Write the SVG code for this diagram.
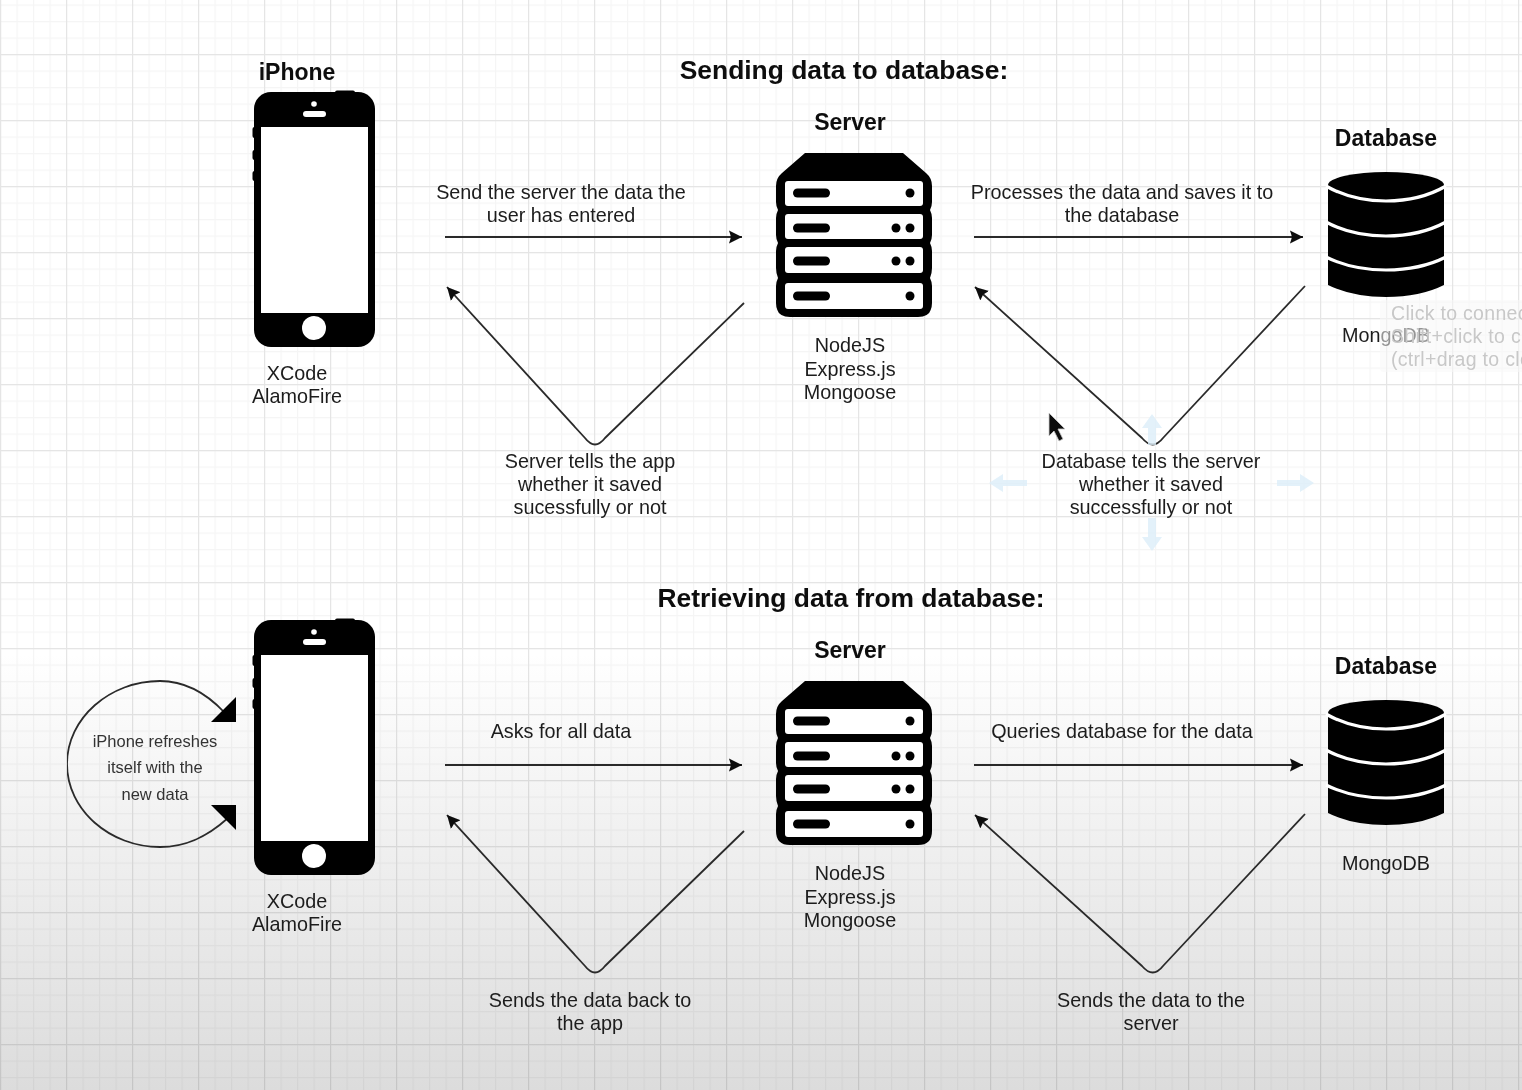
<svg xmlns="http://www.w3.org/2000/svg" width="1522" height="1090" viewBox="0 0 1522 1090">
<style>
text{font-family:"Liberation Sans",Arial,sans-serif;fill:#1c1c1c;text-anchor:middle;font-size:19.8px}
.b{font-weight:bold;fill:#0c0c0c;font-size:23px}
.t{font-weight:bold;fill:#0c0c0c;font-size:26.4px}
.s{font-size:16.5px;fill:#333}
.tip{font-size:19.5px;fill:#c8c8c8;text-anchor:start;letter-spacing:0.3px}
.c{fill:none;stroke:#2a2a2a;stroke-width:1.8;stroke-linejoin:round}
.w{fill:#fff}
.k{fill:#000}
.mv{fill:#dceef9}
</style>
<defs>
<linearGradient id="bg" x1="0" y1="0" x2="0" y2="1">
<stop offset="0" stop-color="#fff"/><stop offset="0.6" stop-color="#fff"/><stop offset="1" stop-color="#dcdcdc"/>
</linearGradient>
<pattern id="minor" width="16.5" height="16.5" patternUnits="userSpaceOnUse" y="4.5">
<path d="M0.500 0V16.5M0 0.500H16.5" fill="none" stroke="#000" stroke-opacity="0.04" stroke-width="1.3"/>
</pattern>
<pattern id="major" width="66" height="66" patternUnits="userSpaceOnUse" y="54">
<path d="M0.500 0V66M0 0.500H66" fill="none" stroke="#000" stroke-opacity="0.065" stroke-width="1.4"/>
</pattern>
<marker id="arrow" markerWidth="14" markerHeight="14" refX="13" refY="7" orient="auto" markerUnits="userSpaceOnUse">
<path d="M0 0.500L13 7L0 13.500L2 7Z" fill="#0a0a0a"/>
</marker>
<filter id="soft" x="0" y="0" width="100%" height="100%"><feGaussianBlur stdDeviation="0.7"/></filter>
<g id="phone">
<rect class="k" x="254" y="92" width="121" height="255" rx="17"/>
<rect class="k" x="335" y="90.500" width="20" height="6" rx="2"/>
<rect class="k" x="252.500" y="127" width="4" height="11" rx="2"/>
<rect class="k" x="252.500" y="150" width="4" height="10" rx="2"/>
<rect class="k" x="252.500" y="171" width="4" height="10" rx="2"/>
<rect class="w" x="261" y="127" width="107" height="186"/>
<rect class="w" x="303" y="111" width="23" height="6" rx="3"/>
<circle class="w" cx="314" cy="104" r="2.800"/>
<circle class="w" cx="314" cy="328" r="12"/>
</g>
<g id="server">
<path class="k" d="M805 153H903L926 173Q932 178 932 186V202Q932 206 930 210Q932 214 932 218V235Q932 239 930 243Q932 247 932 251V268Q932 273 930 278Q932 282 932 286V303Q932 317 918 317H790Q776 317 776 303V286Q776 282 778 278Q776 273 776 268V251Q776 247 778 243Q776 239 776 235V218Q776 214 778 210Q776 206 776 202V186Q776 178 782 173Z"/>
<rect class="w" x="785" y="181" width="138" height="25" rx="3"/>
<rect class="w" x="785" y="214" width="138" height="25" rx="3"/>
<rect class="w" x="785" y="247" width="138" height="26" rx="3"/>
<rect class="w" x="785" y="283" width="138" height="26" rx="3"/>
<rect class="k" x="793" y="188.500" width="37" height="9" rx="4.500"/>
<rect class="k" x="793" y="223.500" width="37" height="9" rx="4.500"/>
<rect class="k" x="793" y="256.500" width="37" height="9" rx="4.500"/>
<rect class="k" x="793" y="291.500" width="37" height="9" rx="4.500"/>
<circle class="k" cx="910" cy="193" r="4.500"/>
<circle class="k" cx="896" cy="228" r="4.500"/><circle class="k" cx="910" cy="228" r="4.500"/>
<circle class="k" cx="896" cy="261" r="4.500"/><circle class="k" cx="910" cy="261" r="4.500"/>
<circle class="k" cx="910" cy="296" r="4.500"/>
</g>
<g id="db">
<path class="k" d="M1328 185A58 13 0 0 1 1444 185V285Q1420 297 1386 297Q1352 297 1328 285Z"/>
<path d="M1326 186Q1352 201 1386 201Q1420 201 1446 186M1326 222Q1352 236 1386 236Q1420 236 1446 222M1326 257Q1352 270 1386 270Q1420 270 1446 257" fill="none" stroke="#fff" stroke-width="3.200"/>
</g>
</defs>
<rect width="1522" height="1090" fill="url(#bg)"/>
<rect width="1522" height="1090" fill="url(#minor)"/>
<rect width="1522" height="1090" fill="url(#major)"/>
<g filter="url(#soft)">
<g id="connectors">
<path class="c" d="M445 237H742" marker-end="url(#arrow)"/>
<path class="c" d="M744 303L605 438Q595 451 585 438L447 287" marker-end="url(#arrow)"/>
<path class="c" d="M974 237H1303" marker-end="url(#arrow)"/>
<path class="c" d="M1305 286L1163 438Q1153 451 1142 438L975 287" marker-end="url(#arrow)"/>
<path class="c" d="M445 765H742" marker-end="url(#arrow)"/>
<path class="c" d="M744 831L605 966Q595 979 585 966L447 815" marker-end="url(#arrow)"/>
<path class="c" d="M974 765H1303" marker-end="url(#arrow)"/>
<path class="c" d="M1305 814L1163 966Q1153 979 1142 966L975 815" marker-end="url(#arrow)"/>
<path class="c" d="M224 712C205 692 185 681 160 681C110 681 67 718 67 764C67 810 110 847 160 847C187 847 208 836 228 818"/>
<path class="k" d="M236 697V722H211Z"/>
<path class="k" d="M211 805H236V830Z"/>
</g>
<g id="titles">
<text class="t" x="844" y="79">Sending data to database:</text>
<text class="t" x="851" y="607">Retrieving data from database:</text>
</g>
<g id="iphone-top"><use href="#phone"/>
<text class="b" x="297" y="80">iPhone</text>
<text x="297" y="380">XCode</text><text x="297" y="403">AlamoFire</text></g>
<g id="server-top"><use href="#server"/>
<text class="b" x="850" y="130">Server</text>
<text x="850" y="352">NodeJS</text><text x="850" y="376">Express.js</text><text x="850" y="399">Mongoose</text></g>
<g id="database-top"><use href="#db"/>
<text class="b" x="1386" y="146">Database</text>
<text x="1386" y="342">MongoDB</text></g>
<g id="iphone-bottom"><use href="#phone" y="528"/>
<text x="297" y="908">XCode</text><text x="297" y="931">AlamoFire</text></g>
<g id="server-bottom"><use href="#server" y="528"/>
<text class="b" x="850" y="658">Server</text>
<text x="850" y="880">NodeJS</text><text x="850" y="904">Express.js</text><text x="850" y="927">Mongoose</text></g>
<g id="database-bottom"><use href="#db" y="528"/>
<text class="b" x="1386" y="674">Database</text>
<text x="1386" y="870">MongoDB</text></g>
<g id="labels">
<text x="561" y="199">Send the server the data the</text><text x="561" y="222">user has entered</text>
<text x="1122" y="199">Processes the data and saves it to</text><text x="1122" y="222">the database</text>
<text x="590" y="468">Server tells the app</text><text x="590" y="491">whether it saved</text><text x="590" y="514">sucessfully or not</text>
<text x="1151" y="468">Database tells the server</text><text x="1151" y="491">whether it saved</text><text x="1151" y="514">successfully or not</text>
<text x="561" y="738">Asks for all data</text>
<text x="1122" y="738">Queries database for the data</text>
<text x="590" y="1007">Sends the data back to</text><text x="590" y="1030">the app</text>
<text x="1151" y="1007">Sends the data to the</text><text x="1151" y="1030">server</text>
<text class="s" x="155" y="747">iPhone refreshes</text><text class="s" x="155" y="773">itself with the</text><text class="s" x="155" y="800">new data</text>
</g>
<g id="hover-arrows" opacity="0.8">
<path class="mv" d="M1152 414L1162 428H1156V445H1148V428H1142Z"/>
<path class="mv" d="M1152 551L1162 537H1156V518H1148V537H1142Z"/>
<path class="mv" d="M989 483L1003 474V480H1027V486H1003V492Z"/>
<path class="mv" d="M1314 483L1300 474V480H1277V486H1300V492Z"/>
</g>
<g id="cursor">
<path d="M1049 413V436L1054 431L1059 441L1063 439L1058 429H1065Z" fill="#111" stroke="#ccc" stroke-width="0.800"/>
</g>
<g id="tooltip">
<rect x="1380" y="300" width="150" height="72" rx="4" fill="#f8f8f8" fill-opacity="0.55"/>
<text class="tip" x="1391" y="320">Click to connect</text>
<text class="tip" x="1391" y="343">Shift+click to clone</text>
<text class="tip" x="1391" y="366">(ctrl+drag to clone)</text>
</g>
</g>
</svg>
